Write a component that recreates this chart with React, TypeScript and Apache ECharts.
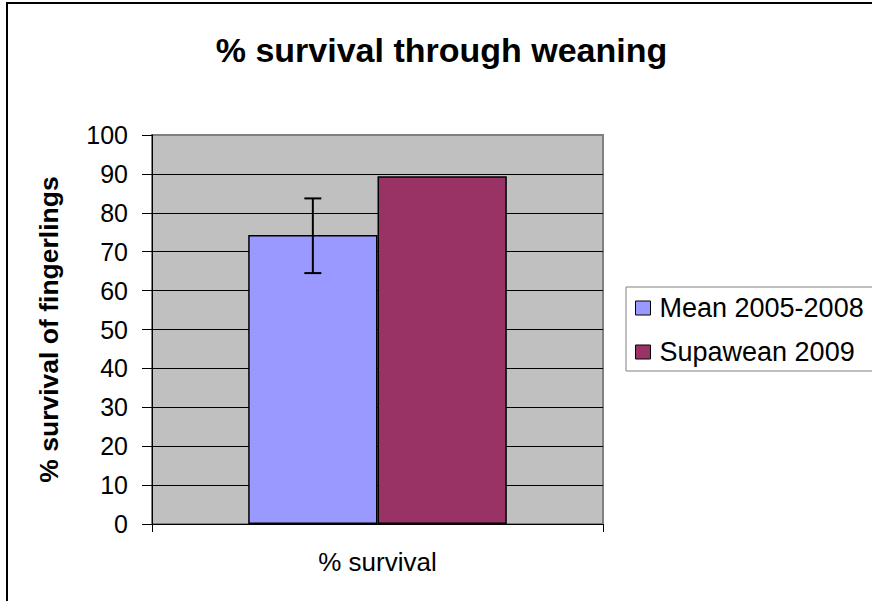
import React, { useEffect, useRef } from "react";
import * as echarts from "echarts";

const categories = ["% survival"];
const seriesNames = ["Mean 2005-2008", "Supawean 2009"];
const meanValues = [74.3];
const supaweanValues = [89.4];
const errorLow = [64.5];
const errorHigh = [83.7];
const yMin = 0;
const yMax = 100;
const yInterval = 10;

const BAR_FRAC = 0.2867;
const FONT = "'Liberation Sans', Arial, sans-serif";

export default function App() {
  const ref = useRef<HTMLDivElement>(null);
  useEffect(() => {
    if (!ref.current) return;
    const chart = echarts.init(ref.current, null, { renderer: "svg" });
    chart.setOption({
      animation: false,
      backgroundColor: "#ffffff",
      title: {
        text: "% survival through weaning",
        left: 441.5,
        textAlign: "center",
        top: 33,
        padding: 0,
        textStyle: { fontFamily: FONT, fontSize: 34, fontWeight: "bold", color: "#000" },
      },
      graphic: [
        {
          type: "rect",
          shape: { x: 7, y: 3, width: 900, height: 700 },
          style: { fill: "none", stroke: "#000", lineWidth: 2 },
          silent: true,
        },
      ],
      legend: {
        orient: "vertical",
        left: 626,
        top: 287,
        data: seriesNames,
        icon: "rect",
        itemWidth: 15,
        itemHeight: 14,
        itemGap: 14,
        padding: [6, 10, 4, 9],
        borderColor: "#808080",
        borderWidth: 1,
        itemStyle: { borderColor: "#000", borderWidth: 1 },
        textStyle: { fontFamily: FONT, fontSize: 27, color: "#000", lineHeight: 30, padding: [0, 0, 0, 4] },
      },
      grid: {
        left: 152,
        right: 269,
        top: 135,
        bottom: 77,
        show: true,
        backgroundColor: "#C0C0C0",
        borderColor: "#808080",
        borderWidth: 2,
      },
      xAxis: {
        type: "category",
        data: categories,
        axisLine: { lineStyle: { color: "#000", width: 1 } },
        axisTick: { show: true, length: 8, lineStyle: { color: "#000" } },
        axisLabel: { fontFamily: FONT, fontSize: 26, color: "#000", margin: 25 },
      },
      yAxis: {
        type: "value",
        min: yMin,
        max: yMax,
        interval: yInterval,
        name: "% survival of fingerlings",
        nameLocation: "middle",
        nameGap: 90,
        nameTextStyle: { fontFamily: FONT, fontSize: 26.5, fontWeight: "bold", color: "#000" },
        axisLine: { show: true, lineStyle: { color: "#000", width: 1 } },
        axisTick: { show: true, length: 10, lineStyle: { color: "#000" } },
        axisLabel: { fontFamily: FONT, fontSize: 25, color: "#000", margin: 24 },
        splitLine: { show: true, showMinLine: false, showMaxLine: false, lineStyle: { color: "#000", width: 1 } },
      },
      series: [
        {
          name: seriesNames[0],
          type: "bar",
          data: meanValues,
          barWidth: `${BAR_FRAC * 100}%`,
          barGap: "0%",
          itemStyle: { color: "#9999FF", borderColor: "#000", borderWidth: 1.5 },
        },
        {
          name: seriesNames[1],
          type: "bar",
          data: supaweanValues,
          barWidth: `${BAR_FRAC * 100}%`,
          barGap: "0%",
          itemStyle: { color: "#993366", borderColor: "#000", borderWidth: 1.5 },
        },
        {
          name: "error",
          type: "custom",
          z: 10,
          data: errorLow.map((l, i) => [i, l, errorHigh[i]]),
          encode: { x: 0, y: [1, 2] },
          renderItem: (params: any, api: any) => {
            const band = api.size([1, 0])[0];
            const off = -band * BAR_FRAC / 2;
            const lo = api.coord([api.value(0), api.value(1)]);
            const hi = api.coord([api.value(0), api.value(2)]);
            const x = lo[0] + off;
            const cap = 8.5;
            const style = { stroke: "#000", lineWidth: 2 };
            return {
              type: "group",
              children: [
                { type: "line", shape: { x1: x, y1: lo[1], x2: x, y2: hi[1] }, style },
                { type: "line", shape: { x1: x - cap, y1: lo[1], x2: x + cap, y2: lo[1] }, style },
                { type: "line", shape: { x1: x - cap, y1: hi[1], x2: x + cap, y2: hi[1] }, style },
              ],
            };
          },
        },
      ],
    });
    return () => chart.dispose();
  }, []);
  return (
    <div
      ref={ref}
      style={{ position: "fixed", left: 0, top: 0, width: 872, height: 601 }}
    />
  );
}
